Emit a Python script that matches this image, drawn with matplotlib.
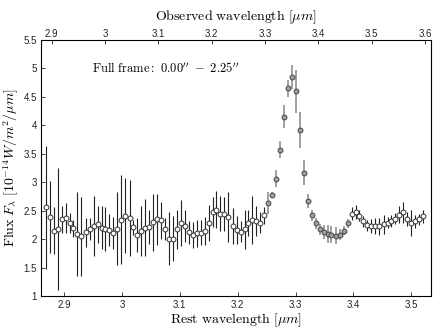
import numpy as np
import matplotlib
matplotlib.use("Agg")
import matplotlib.pyplot as plt

plt.rcParams['mathtext.fontset'] = 'cm'
plt.rcParams['font.family'] = ['Liberation Sans', 'DejaVu Sans']

# Rest wavelength [um]
wave = [2.868, 2.875, 2.882, 2.889, 2.896, 2.903, 2.910, 2.916, 2.923, 2.930,
        2.937, 2.944, 2.951, 2.958, 2.965, 2.971, 2.978, 2.985, 2.992, 2.999,
        3.006, 3.013, 3.019, 3.026, 3.033, 3.040, 3.047, 3.054, 3.061, 3.067,
        3.074, 3.081, 3.088, 3.095, 3.102, 3.109, 3.115, 3.122, 3.129, 3.136,
        3.143, 3.150, 3.157, 3.163, 3.170, 3.177, 3.184, 3.191, 3.198, 3.205,
        3.212, 3.218, 3.225, 3.232, 3.239, 3.246, 3.253, 3.260, 3.266, 3.273,
        3.280, 3.287, 3.294, 3.301, 3.308, 3.314, 3.321, 3.328, 3.335, 3.342,
        3.349, 3.356, 3.362, 3.369, 3.376, 3.383, 3.390, 3.397, 3.404, 3.410,
        3.417, 3.424, 3.431, 3.438, 3.445, 3.452, 3.459, 3.465, 3.472, 3.479,
        3.486, 3.493, 3.500, 3.507, 3.513, 3.520]

# Flux [1e-14 W/m2/um]
flux = [2.56, 2.39, 2.15, 2.18, 2.35, 2.37, 2.28, 2.19, 2.09, 2.05,
        2.12, 2.18, 2.23, 2.26, 2.20, 2.18, 2.16, 2.11, 2.18, 2.34,
        2.41, 2.37, 2.21, 2.08, 2.14, 2.20, 2.21, 2.30, 2.35, 2.33,
        2.18, 2.01, 2.01, 2.17, 2.28, 2.23, 2.12, 2.07, 2.10, 2.11,
        2.14, 2.28, 2.48, 2.52, 2.45, 2.44, 2.39, 2.23, 2.16, 2.13,
        2.17, 2.29, 2.33, 2.32, 2.29, 2.42, 2.63, 2.78, 3.06, 3.57,
        4.15, 4.65, 4.85, 4.60, 3.92, 3.17, 2.67, 2.42, 2.28, 2.17,
        2.12, 2.09, 2.08, 2.06, 2.08, 2.15, 2.28, 2.45, 2.48, 2.41,
        2.31, 2.24, 2.23, 2.23, 2.23, 2.26, 2.29, 2.32, 2.36, 2.43,
        2.47, 2.35, 2.29, 2.31, 2.35, 2.40]

flux_err = [1.08, 0.64, 0.42, 1.07, 0.24, 0.26, 0.18, 0.15, 0.73, 0.69,
            0.26, 0.20, 0.52, 0.32, 0.38, 0.38, 0.28, 0.28, 0.64, 0.78,
            0.66, 0.67, 0.13, 0.30, 0.44, 0.50, 0.30, 0.50, 0.45, 0.32,
            0.20, 0.46, 0.40, 0.35, 0.40, 0.28, 0.20, 0.23, 0.23, 0.22,
            0.25, 0.32, 0.26, 0.32, 0.30, 0.30, 0.44, 0.31, 0.25, 0.18,
            0.34, 0.23, 0.42, 0.26, 0.19, 0.15, 0.19, 0.05, 0.15, 0.15,
            0.20, 0.15, 0.21, 0.38, 0.31, 0.22, 0.12, 0.10, 0.10, 0.10,
            0.12, 0.15, 0.15, 0.15, 0.10, 0.08, 0.08, 0.12, 0.12, 0.10,
            0.10, 0.10, 0.12, 0.14, 0.15, 0.17, 0.10, 0.10, 0.10, 0.15,
            0.18, 0.12, 0.23, 0.12, 0.10, 0.12]

# points belonging to the 3.3 um feature (drawn filled grey)
feature = [i for i, w in enumerate(wave) if 3.250 <= w <= 3.395]
cont = [i for i in range(len(wave)) if i not in feature]

fig = plt.figure(figsize=(4.36, 3.33), dpi=100)
ax = fig.add_axes([0.094, 0.111, 0.8945, 0.769])

ax.errorbar([wave[i] for i in cont], [flux[i] for i in cont],
            yerr=[flux_err[i] for i in cont], fmt='o', ms=3.5,
            mfc='white', mec='#333333', mew=0.7, ecolor='#222222',
            elinewidth=0.8, capsize=0)
ax.errorbar([wave[i] for i in feature], [flux[i] for i in feature],
            yerr=[flux_err[i] for i in feature], fmt='o', ms=3.5,
            mfc='#a0a0a0', mec='#444444', mew=0.7, ecolor='#909090',
            elinewidth=1.2, capsize=0)

ax.set_xlim(2.860, 3.534)
ax.set_ylim(1, 5.5)
ax.set_xticks([2.9, 3.0, 3.1, 3.2, 3.3, 3.4, 3.5])
ax.set_xticklabels(['2.9', '3', '3.1', '3.2', '3.3', '3.4', '3.5'])
ax.set_yticks([1, 1.5, 2, 2.5, 3, 3.5, 4, 4.5, 5, 5.5])
ax.set_yticklabels(['1', '1.5', '2', '2.5', '3', '3.5', '4', '4.5', '5', '5.5'])
ax.tick_params(direction='in', length=3, width=0.6, labelsize=7, pad=3,
               colors='#222222')
for s in ax.spines.values():
    s.set_linewidth(0.7)
    s.set_color('#333333')

ax.set_xlabel(r'$\mathrm{Rest\ wavelength}\ [\mu m]$', fontsize=10, labelpad=1)
ax.set_ylabel(r'$\mathrm{Flux}\ F_\lambda\ [10^{-14}W/m^2/\mu m]$', fontsize=10,
              labelpad=2)

ax2 = ax.twiny()
ax2.set_xlim(2.880, 3.611)
ax2.set_xticks([2.9, 3.0, 3.1, 3.2, 3.3, 3.4, 3.5, 3.6])
ax2.set_xticklabels(['2.9', '3', '3.1', '3.2', '3.3', '3.4', '3.5', '3.6'])
ax2.tick_params(direction='in', length=3, width=0.6, labelsize=7, pad=1,
                colors='#222222')
ax2.set_xlabel(r'$\mathrm{Observed\ wavelength}\ [\mu m]$', fontsize=10,
               labelpad=6)

ax.text(2.948, 5.0, r"$\mathrm{Full\ frame:}\ 0.00''\ -\ 2.25''$", fontsize=9,
        va='center', ha='left')

fig.savefig('out.png', dpi=100)
